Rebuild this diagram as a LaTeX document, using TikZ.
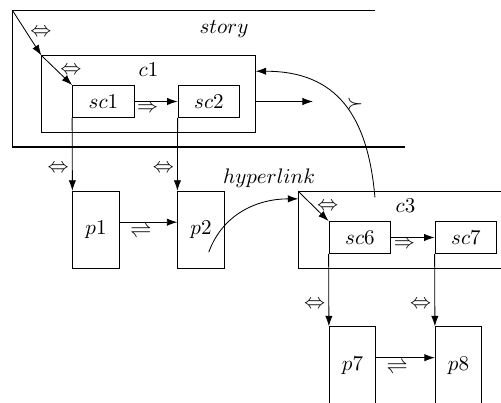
\documentclass[tikz,border=0pt]{standalone}
\usetikzlibrary{arrows.meta, positioning, calc}
\tikzset{
  container/.style={
    rectangle, draw=black, line width=0.5pt,
    minimum width=3.56cm, minimum height=1.27cm, inner sep=0pt
  },
  scbox/.style={
    rectangle, draw=black, line width=0.5pt,
    minimum width=1.03cm, minimum height=0.53cm, inner sep=0pt
  },
  pagebox/.style={
    rectangle, draw=black, line width=0.5pt,
    minimum width=0.77cm, minimum height=1.29cm, inner sep=0pt
  },
  arrow/.style={
    -{Latex[length=5pt, width=3.5pt]},
    line width=0.4pt
  },
  rel/.style={inner sep=1.5pt}
}

\begin{document}
\begin{tikzpicture}[x=0.0167cm, y=-0.0167cm]

\useasboundingbox (0,0) rectangle (501,403);
\clip (0,0) rectangle (501,403);

% ── Story frame ───────────────────────────────────────────────────────────────

\coordinate (storyNE) at (375,10.5);
\coordinate (storyNW) at (12.5,10.5);
\coordinate (storySW) at (12.5,147);
\coordinate (storySE) at (405,147);
\draw[line width=0.5pt] (storyNE) -- (storyNW) -- (storySW) -- (storySE);
\node[anchor=north] (storylabel) at (224,13) {$story$};

% ── Composite c1 and its scenes ───────────────────────────────────────────────

\node[container] (c1) at (148.5,94) {};
\node[below=0pt of c1.north] (c1label) {$c1$};
\node[scbox] (sc1) at (103.5,101.5) {$sc1$};
\node[scbox] (sc2) at (209,101.5) {$sc2$};

% ── Pages ─────────────────────────────────────────────────────────────────────

\node[pagebox] (p1) at (96,230) {$p1$};
\node[pagebox] (p2) at (201,230) {$p2$};

% ── Composite c3 and its scenes ───────────────────────────────────────────────

\node[container] (c3) at (405.5,230) {};
\node[below=0pt of c3.north] (c3label) {$c3$};
\node[scbox] (sc6) at (360,237.5) {$sc6$};
\node[scbox] (sc7) at (466,237.5) {$sc7$};

\node[pagebox] (p7) at (352.5,365.5) {$p7$};
\node[pagebox] (p8) at (458.5,365.5) {$p8$};

% ── Upper arrows ──────────────────────────────────────────────────────────────

\draw[arrow] (storyNW) -- node[rel, right] {$\Leftrightarrow$} (c1.north west);
\draw[arrow] (c1.north west) -- node[rel, right] {$\Leftrightarrow$} (sc1.north west);
\draw[arrow] (sc1) -- node[rel, below, pos=0.3] {$\Rightarrow$} (sc2);

\coordinate (out1) at (313,101.5);
\draw[arrow] (c1.east |- sc2.east) -- (out1);

\draw[arrow] (sc1.south west) -- node[rel, left, pos=0.7] {$\Leftrightarrow$} (p1.north west);
\draw[arrow] (sc2.south west) -- node[rel, left, pos=0.7] {$\Leftrightarrow$} (p2.north west);
\draw[arrow] ([yshift=1.3mm]p1.east) -- node[rel, below, pos=0.37] {$\rightleftharpoons$} ([yshift=1.3mm]p2.west);

% ── Hyperlink and back link ───────────────────────────────────────────────────

\coordinate (hlstart) at ([xshift=1.3mm, yshift=-3.7mm]p2.center);
\draw[arrow] (hlstart) to[out=70, in=180] node[rel, above=5pt, pos=0.75] {$hyperlink$} ([yshift=5.2mm]c3.west);

\coordinate (back) at ([xshift=-5.1mm, yshift=-1mm]c3.north);
\draw[arrow] (back) to[out=95, in=0, looseness=1.2] node[rel, right, pos=0.5] {$\succ$} ([yshift=3.8mm]c1.east);

% ── Lower arrows ──────────────────────────────────────────────────────────────

\draw[arrow] (c3.north west) -- node[rel, right] {$\Leftrightarrow$} (sc6.north west);
\draw[arrow] (sc6) -- node[rel, below, pos=0.3] {$\Rightarrow$} (sc7);
\draw[arrow] (sc6.south west) -- node[rel, left, pos=0.7] {$\Leftrightarrow$} (p7.north west);
\draw[arrow] (sc7.south west) -- node[rel, left, pos=0.7] {$\Leftrightarrow$} (p8.north west);
\draw[arrow] ([yshift=1.3mm]p7.east) -- node[rel, below, pos=0.36] {$\rightleftharpoons$} ([yshift=1.3mm]p8.west);

\end{tikzpicture}
\end{document}
